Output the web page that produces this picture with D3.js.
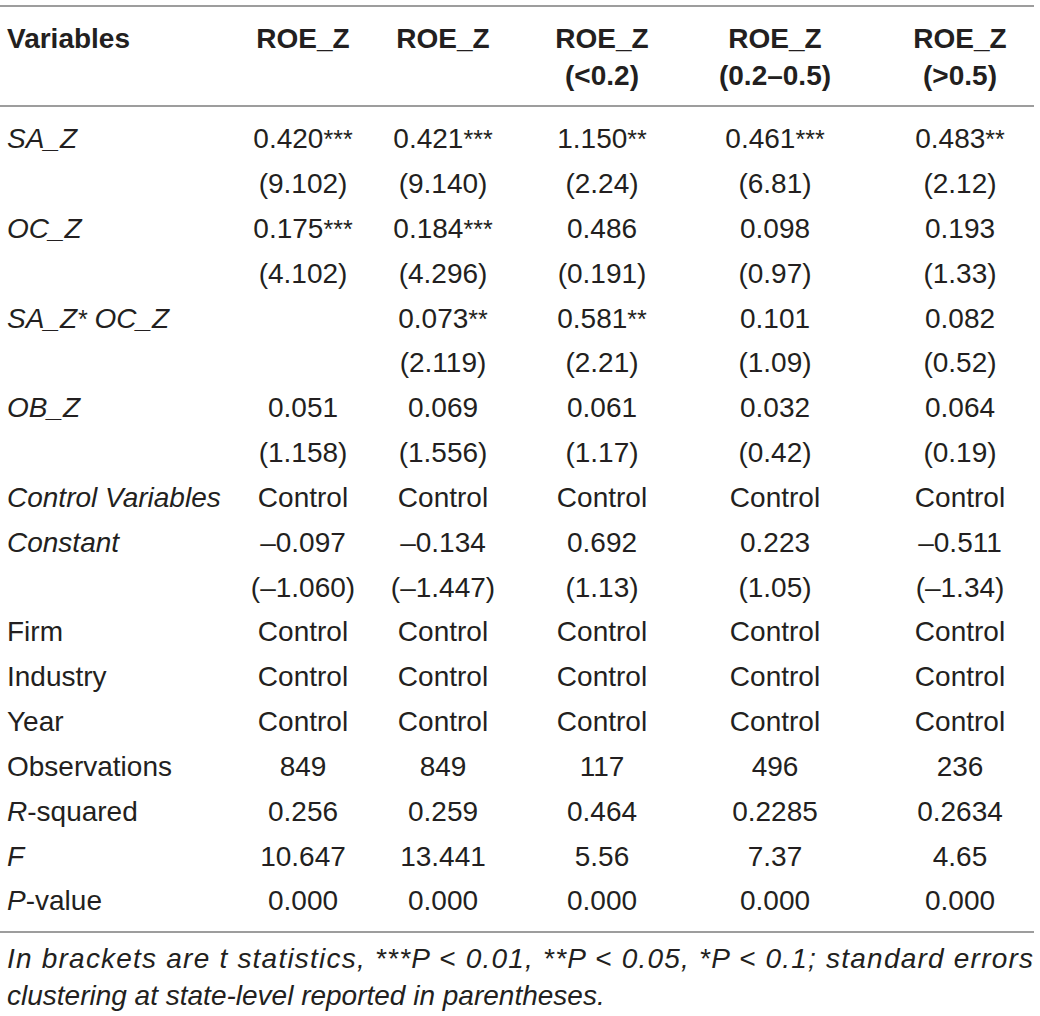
<!DOCTYPE html>
<html>
<head>
<meta charset="utf-8">
<script src="https://cdn.jsdelivr.net/npm/d3@7"></script>
<style>
  html, body { margin: 0; padding: 0; background: #fff; }
  svg text { font-family: "Liberation Sans", Arial, sans-serif; fill: #231f20; }
</style>
</head>
<body>
<div id="chart"></div>
<script>
// Table content
const columns = ["c1", "c2", "c3", "c4", "c5"];
const headerLine1 = ["ROE_Z", "ROE_Z", "ROE_Z", "ROE_Z", "ROE_Z"];
const headerLine2 = ["", "", "(<0.2)", "(0.2–0.5)", "(>0.5)"];

// row labels; sup = star part, rest = trailing part
const rowLabels = [
    { text: "SA_Z", italic: true },
    { text: "", italic: false },
    { text: "OC_Z", italic: true },
    { text: "", italic: false },
    { text: "SA_Z", sup: "*", rest: " OC_Z", italic: true },
    { text: "", italic: false },
    { text: "OB_Z", italic: true },
    { text: "", italic: false },
    { text: "Control Variables", italic: true },
    { text: "Constant", italic: true },
    { text: "", italic: false },
    { text: "Firm", italic: false },
    { text: "Industry", italic: false },
    { text: "Year", italic: false },
    { text: "Observations", italic: false },
    { text: "R", rest: "-squared", italicPart: true },
    { text: "F", italic: true },
    { text: "P", rest: "-value", italicPart: true }
];

// cell values: [value, stars]
const saZ      = [["0.420", "***"], ["0.421", "***"], ["1.150", "**"], ["0.461", "***"], ["0.483", "**"]];
const saZt     = ["(9.102)", "(9.140)", "(2.24)", "(6.81)", "(2.12)"];
const ocZ      = [["0.175", "***"], ["0.184", "***"], ["0.486", ""], ["0.098", ""], ["0.193", ""]];
const ocZt     = ["(4.102)", "(4.296)", "(0.191)", "(0.97)", "(1.33)"];
const inter    = [["", ""], ["0.073", "**"], ["0.581", "**"], ["0.101", ""], ["0.082", ""]];
const intert   = ["", "(2.119)", "(2.21)", "(1.09)", "(0.52)"];
const obZ      = ["0.051", "0.069", "0.061", "0.032", "0.064"];
const obZt     = ["(1.158)", "(1.556)", "(1.17)", "(0.42)", "(0.19)"];
const controls = ["Control", "Control", "Control", "Control", "Control"];
const constant = ["–0.097", "–0.134", "0.692", "0.223", "–0.511"];
const constantT = ["(–1.060)", "(–1.447)", "(1.13)", "(1.05)", "(–1.34)"];
const firm     = ["Control", "Control", "Control", "Control", "Control"];
const industry = ["Control", "Control", "Control", "Control", "Control"];
const year     = ["Control", "Control", "Control", "Control", "Control"];
const obs      = ["849", "849", "117", "496", "236"];
const rsq      = ["0.256", "0.259", "0.464", "0.2285", "0.2634"];
const fStat    = ["10.647", "13.441", "5.56", "7.37", "4.65"];
const pValue   = ["0.000", "0.000", "0.000", "0.000", "0.000"];

const footLine1 = "In brackets are t statistics, ***P < 0.01, **P < 0.05, *P < 0.1; standard errors";
const footLine2 = "clustering at state-level reported in parentheses.";

const plain = (arr) => arr.map((v) => [v, ""]);
const cellRows = [
    saZ, plain(saZt), ocZ, plain(ocZt), inter, plain(intert), plain(obZ), plain(obZt),
    plain(controls), plain(constant), plain(constantT), plain(firm), plain(industry),
    plain(year), plain(obs), plain(rsq), plain(fStat), plain(pValue)
];

// Layout
const W = 1040, H = 1016;
const fontSize = 28;
const starSize = 25; // asterisks already sit high in the glyph
const xScale = d3.scaleOrdinal().domain(columns).range([303, 443, 602, 775, 960]);
const yScale = d3.scaleBand().domain(d3.range(cellRows.length)).range([116, 923]);

const svg = d3.select("#chart").append("svg")
    .attr("width", W)
    .attr("height", H);

// Rules
const rules = [6, 106, 932];
svg.append("g").selectAll("line")
    .data(rules)
    .enter()
    .append("line")
    .attr("x1", 0)
    .attr("x2", 1034)
    .attr("y1", (d) => d)
    .attr("y2", (d) => d)
    .attr("stroke", "#9d9d9d")
    .attr("stroke-width", 2);

// Header
const header = svg.append("g").attr("font-weight", "bold").attr("font-size", fontSize);
header.append("text")
    .attr("x", 7)
    .attr("y", 38)
    .attr("dy", "0.35em")
    .text("Variables");
header.selectAll("text.h1")
    .data(columns)
    .enter()
    .append("text")
    .attr("class", "h1")
    .attr("x", (d) => xScale(d))
    .attr("y", 38)
    .attr("dy", "0.35em")
    .attr("text-anchor", "middle")
    .text((d, i) => headerLine1[i]);
header.selectAll("text.h2")
    .data(columns)
    .enter()
    .append("text")
    .attr("class", "h2")
    .attr("x", (d) => xScale(d))
    .attr("y", 75)
    .attr("dy", "0.35em")
    .attr("text-anchor", "middle")
    .text((d, i) => headerLine2[i]);

// Row labels
const labels = svg.append("g").attr("font-size", fontSize);
labels.selectAll("text")
    .data(rowLabels)
    .enter()
    .append("text")
    .attr("x", 7)
    .attr("y", (d, i) => yScale(i) + yScale.bandwidth() / 2)
    .attr("dy", "0.35em")
    .each(function (d) {
        const t = d3.select(this);
        t.append("tspan")
            .attr("font-style", d.italic || d.italicPart ? "italic" : "normal")
            .text(d.text);
        if (d.sup) {
            t.append("tspan")
                .attr("font-style", "italic")
                .attr("font-size", starSize)
                .text(d.sup);
            t.append("tspan")
                .attr("font-style", "italic")
                .text(d.rest);
        } else if (d.rest) {
            t.append("tspan")
                .attr("font-style", d.italic ? "italic" : "normal")
                .text(d.rest);
        }
    });

// Cells
const body = svg.append("g").attr("font-size", fontSize);
const rowG = body.selectAll("g.row")
    .data(cellRows)
    .enter()
    .append("g")
    .attr("class", "row")
    .attr("transform", (d, i) => `translate(0, ${yScale(i) + yScale.bandwidth() / 2})`);

rowG.selectAll("text")
    .data((d) => d.map((v, j) => ({ value: v[0], stars: v[1], col: columns[j] })))
    .enter()
    .append("text")
    .attr("x", (d) => xScale(d.col))
    .attr("dy", "0.35em")
    .attr("text-anchor", "middle")
    .each(function (d) {
        const t = d3.select(this);
        t.append("tspan").text(d.value);
        if (d.stars) {
            t.append("tspan")
                .attr("font-size", starSize)
                .text(d.stars);
        }
    });

// Footnote
const foot = svg.append("g").attr("font-size", fontSize).attr("font-style", "italic");
foot.append("text")
    .attr("x", 7)
    .attr("y", 958)
    .attr("dy", "0.35em")
    .attr("textLength", 1026)
    .attr("lengthAdjust", "spacing")
    .text(footLine1);
foot.append("text")
    .attr("x", 7)
    .attr("y", 995)
    .attr("dy", "0.35em")
    .text(footLine2);
</script>
</body>
</html>
